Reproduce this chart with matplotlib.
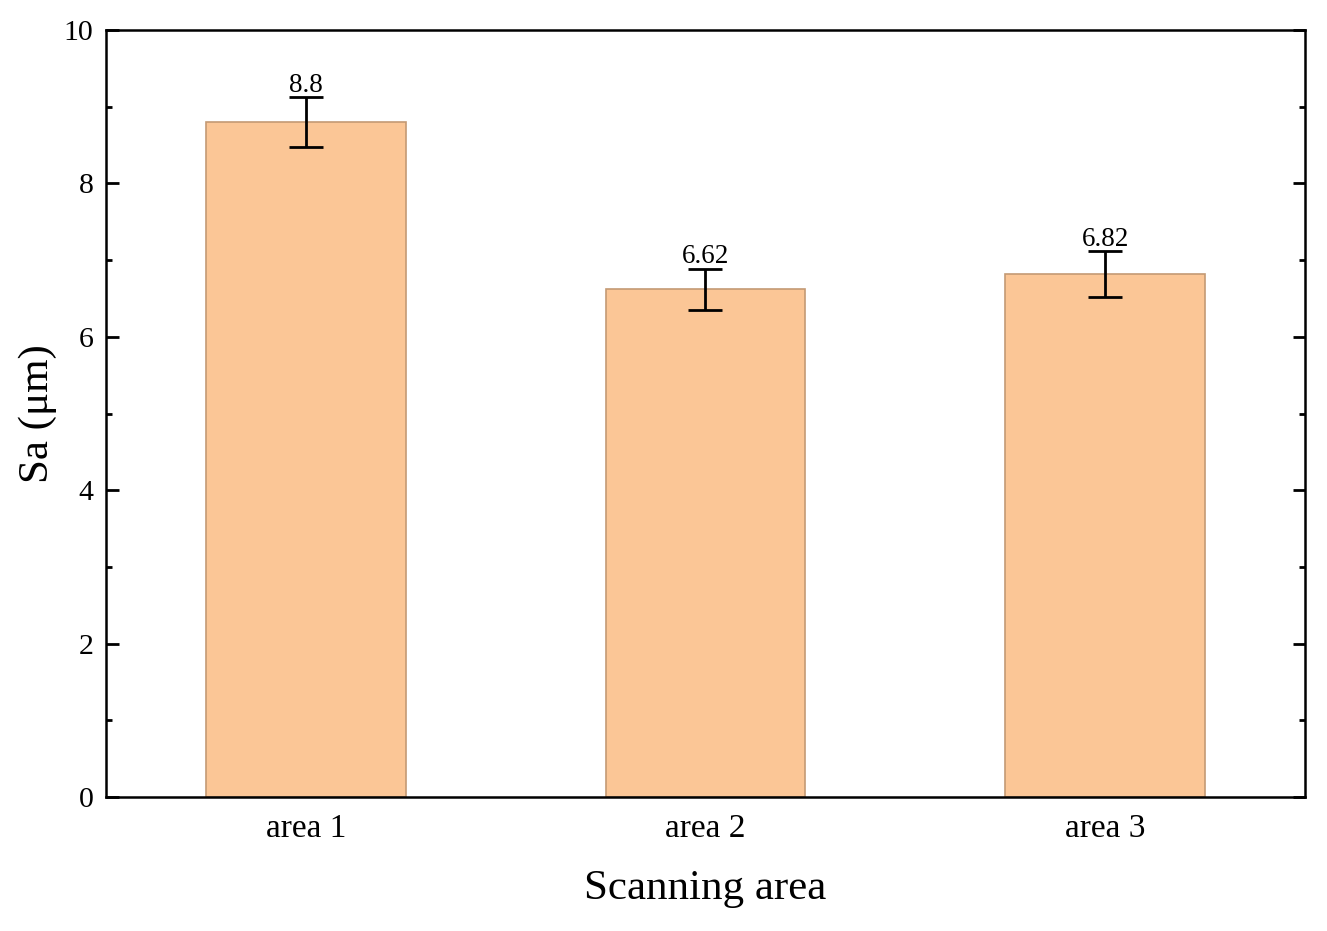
import matplotlib
matplotlib.use("Agg")
import matplotlib.pyplot as plt
from matplotlib.ticker import MultipleLocator

areas = ["area 1", "area 2", "area 3"]
sa_values = [8.8, 6.62, 6.82]
sa_errors = [0.32, 0.27, 0.30]

plt.rcParams['font.family'] = ['Liberation Serif', 'DejaVu Serif']

fig = plt.figure(figsize=(13.27, 9.31), dpi=100)
ax = fig.add_axes([106 / 1327, 1 - 797 / 931, 1199 / 1327, 767 / 931])

x = list(range(1, len(areas) + 1))
ax.bar(x, sa_values, width=0.5, color="#FBC696", edgecolor="#C49A74", linewidth=1.2,
       yerr=sa_errors, error_kw=dict(ecolor="black", elinewidth=2, capsize=12, capthick=2))

for xi, v, e in zip(x, sa_values, sa_errors):
    ax.text(xi, v + e - 0.01, f"{v:g}", ha="center", va="bottom", fontsize=19.5)

ax.set_xlim(0.5, 3.5)
ax.set_ylim(0, 10)
ax.set_xticks(x)
ax.set_xticklabels(areas)
ax.yaxis.set_major_locator(MultipleLocator(2))
ax.yaxis.set_minor_locator(MultipleLocator(1))

ax.tick_params(axis="x", length=0, labelsize=24, pad=12)
ax.tick_params(axis="y", which="both", direction="in", left=True, right=True, width=2)
ax.tick_params(axis="y", which="major", length=9, labelsize=21.5, pad=9)
ax.tick_params(axis="y", which="minor", length=4.5)

for s in ax.spines.values():
    s.set_linewidth(1.8)

ax.set_ylabel("Sa (μm)", fontsize=31, labelpad=5)
ax.set_xlabel("Scanning area", fontsize=31, labelpad=18)

fig.savefig("out.png", dpi=100)
